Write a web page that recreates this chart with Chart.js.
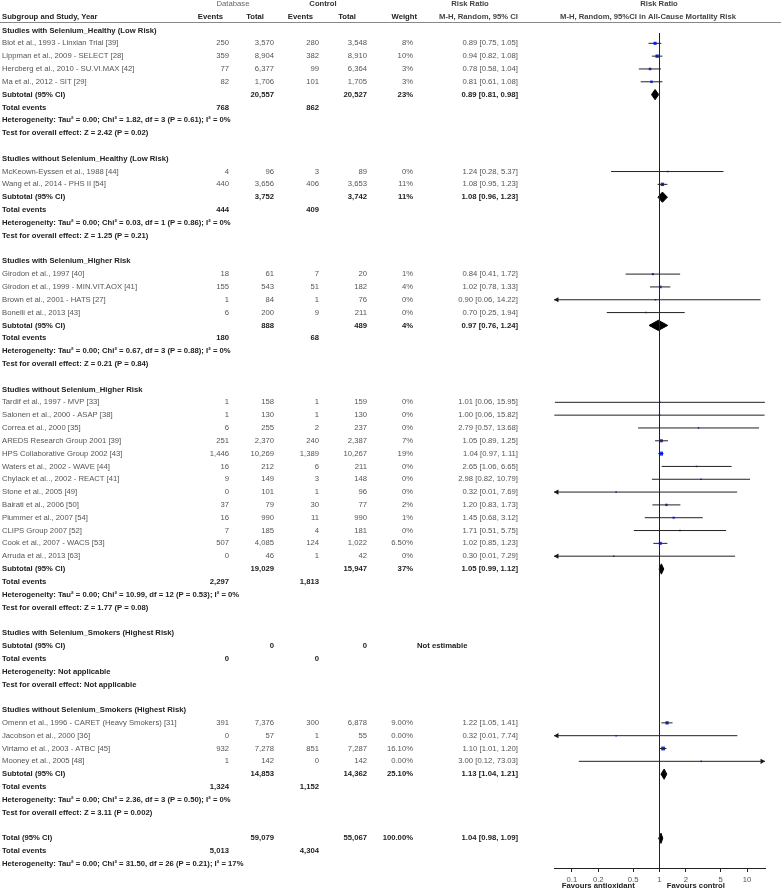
<!DOCTYPE html>
<html>
<head>
<meta charset="utf-8">
<script src="https://cdn.jsdelivr.net/npm/chart.js@4.4.1/dist/chart.umd.min.js"></script>
<style>
html, body { margin: 0; padding: 0; background: #fff; }
canvas { display: block; }
</style>
</head>
<body>
<canvas id="forest" width="781" height="891"></canvas>
<script>
// subgroups
const groupNames = [
	'Studies with Selenium_Healthy (Low Risk)',
	'Studies without Selenium_Healthy (Low Risk)',
	'Studies with Selenium_Higher Risk',
	'Studies without Selenium_Higher Risk',
	'Studies with Selenium_Smokers (Highest Risk)',
	'Studies without Selenium_Smokers (Highest Risk)'
];

// one entry per study
const studyNames = [
	'Blot et al., 1993 - Linxian Trial [39]', 'Lippman et al., 2009 - SELECT [28]',
	'Hercberg et al., 2010 - SU.VI.MAX [42]', 'Ma et al., 2012 - SIT [29]',
	'McKeown-Eyssen et al., 1988 [44]', 'Wang et al., 2014 - PHS II [54]',
	'Girodon et al., 1997 [40]', 'Girodon et al., 1999 - MIN.VIT.AOX [41]',
	'Brown et al., 2001 - HATS [27]', 'Bonelli et al., 2013 [43]',
	'Tardif et al., 1997 - MVP [33]', 'Salonen et al., 2000 - ASAP [38]', 'Correa et al., 2000 [35]',
	'AREDS Research Group 2001 [39]', 'HPS Collaborative Group 2002 [43]', 'Waters et al., 2002 - WAVE [44]',
	'Chylack et al.., 2002 - REACT [41]', 'Stone et al., 2005 [49]', 'Bairati et al., 2006 [50]',
	'Plummer et al., 2007 [54]', 'CLIPS Group 2007 [52]', 'Cook et al., 2007 - WACS [53]', 'Arruda et al., 2013 [63]',
	'Omenn et al., 1996 - CARET (Heavy Smokers) [31]', 'Jacobson et al., 2000 [36]',
	'Virtamo et al., 2003 - ATBC [45]', 'Mooney et al., 2005 [48]'
];
const studyGroup = [0,0,0,0, 1,1, 2,2,2,2, 3,3,3,3,3,3,3,3,3,3,3,3,3, 5,5,5,5];
const dbEvents  = [250, 359, 77, 82, 4, 440, 18, 155, 1, 6, 1, 1, 6, 251, 1446, 16, 9, 0, 37, 16, 7, 507, 0, 391, 0, 932, 1];
const dbTotal   = [3570, 8904, 6377, 1706, 96, 3656, 61, 543, 84, 200, 158, 130, 255, 2370, 10269, 212, 149, 101, 79, 990, 185, 4085, 46, 7376, 57, 7278, 142];
const ctlEvents = [280, 382, 99, 101, 3, 406, 7, 51, 1, 9, 1, 1, 2, 240, 1389, 6, 3, 1, 30, 11, 4, 124, 1, 300, 1, 851, 0];
const ctlTotal  = [3548, 8910, 6364, 1705, 89, 3653, 20, 182, 76, 211, 159, 130, 237, 2387, 10267, 211, 148, 96, 77, 990, 181, 1022, 42, 6878, 55, 7287, 142];
const weights   = ['8%', '10%', '3%', '3%', '0%', '11%', '1%', '4%', '0%', '0%', '0%', '0%', '0%', '7%', '19%', '0%', '0%', '0%', '2%', '1%', '0%', '6.50%', '0%', '9.00%', '0.00%', '16.10%', '0.00%'];
const rr = [0.89, 0.94, 0.78, 0.81, 1.24, 1.08, 0.84, 1.02, 0.90, 0.70, 1.01, 1.00, 2.79, 1.05, 1.04, 2.65, 2.98, 0.32, 1.20, 1.45, 1.71, 1.02, 0.30, 1.22, 0.32, 1.10, 3.00];
const lo = [0.75, 0.82, 0.58, 0.61, 0.28, 0.95, 0.41, 0.78, 0.057, 0.25, 0.064, 0.063, 0.57, 0.89, 0.97, 1.06, 0.82, 0.01, 0.83, 0.68, 0.51, 0.85, 0.01, 1.05, 0.01, 1.01, 0.12];
const hi = [1.05, 1.08, 1.04, 1.08, 5.37, 1.23, 1.72, 1.33, 14.22, 1.94, 15.95, 15.82, 13.68, 1.25, 1.11, 6.65, 10.79, 7.69, 1.73, 3.12, 5.75, 1.23, 7.29, 1.41, 7.74, 1.20, 73.03];

// one entry per subgroup
const subDbEvents  = [768, 444, 180, 2297, 0, 1324];
const subCtlEvents = [862, 409, 68, 1813, 0, 1152];
const subDbTotal   = [20557, 3752, 888, 19029, 0, 14853];
const subCtlTotal  = [20527, 3742, 489, 15947, 0, 14362];
const subWeight    = ['23%', '11%', '4%', '37%', '', '25.10%'];
const subRR = [0.89, 1.08, 0.97, 1.05, null, 1.13];
const subLo = [0.81, 0.96, 0.76, 0.99, null, 1.04];
const subHi = [0.98, 1.23, 1.24, 1.12, null, 1.21];
const hetText = [
	'Heterogeneity: Tau² = 0.00; Chi² = 1.82, df = 3 (P = 0.61); I² = 0%',
	'Heterogeneity: Tau² = 0.00; Chi² = 0.03, df = 1 (P = 0.86); I² = 0%',
	'Heterogeneity: Tau² = 0.00; Chi² = 0.67, df = 3 (P = 0.88); I² = 0%',
	'Heterogeneity: Tau² = 0.00; Chi² = 10.99, df = 12 (P = 0.53); I² = 0%',
	'Heterogeneity: Not applicable',
	'Heterogeneity: Tau² = 0.00; Chi² = 2.36, df = 3 (P = 0.50); I² = 0%'
];
const testText = [
	'Test for overall effect: Z = 2.42 (P = 0.02)',
	'Test for overall effect: Z = 1.25 (P = 0.21)',
	'Test for overall effect: Z = 0.21 (P = 0.84)',
	'Test for overall effect: Z = 1.77 (P = 0.08)',
	'Test for overall effect: Not applicable',
	'Test for overall effect: Z = 3.11 (P = 0.002)'
];

// overall
const totalCounts = [59079, 55067];
const totalEvents = [5013, 4304];
const totalWeight = '100.00%';
const totalCI = [1.04, 0.98, 1.09];
const totalHet = 'Heterogeneity: Tau² = 0.00; Chi² = 31.50, df = 26 (P = 0.21); I² = 17%';

const xTicks = [0.1, 0.2, 0.5, 1, 2, 5, 10];
const xMin = 0.0625, xMax = 16;
const yMin = 0.195, yMax = 65.32;

// lay the rows out
let rows = [], studyRow = [], subRow = [], r = 0;
groupNames.forEach((g, gi) => {
	rows.push({ type: 'group', r: r++, g: gi });
	studyNames.forEach((n, i) => {
		if (studyGroup[i] === gi) { studyRow[i] = r; rows.push({ type: 'study', r: r++, i: i }); }
	});
	subRow[gi] = r;
	rows.push({ type: 'sub', r: r++, g: gi });
	rows.push({ type: 'events', r: r++, g: gi });
	rows.push({ type: 'het', r: r++, g: gi });
	rows.push({ type: 'test', r: r++, g: gi });
	r++;
});
const totalRow = r;

// marks
let ciData = [], squareData = [], squareSize = [], arrowData = [], arrowRot = [];
studyNames.forEach((n, i) => {
	let y = studyRow[i];
	ciData.push({ x: lo[i], y: y }, { x: hi[i], y: y }, { x: null, y: null });
	squareData.push({ x: rr[i], y: y });
	squareSize.push(1.1 + Math.sqrt(parseFloat(weights[i])) * 0.4);
	if (lo[i] < xMin) { arrowData.push({ x: xMin * 1.08, y: y }); arrowRot.push(-90); }
	if (hi[i] > xMax) { arrowData.push({ x: xMax / 1.08, y: y }); arrowRot.push(90); }
});

let diamondData = [];
const addDiamond = (c, l, h, y) => {
	diamondData.push({ x: l, y: y }, { x: c, y: y - 0.4 }, { x: h, y: y }, { x: c, y: y + 0.4 }, { x: l, y: y }, { x: null, y: null });
};
subRR.forEach((v, gi) => { if (v !== null) addDiamond(v, subLo[gi], subHi[gi], subRow[gi]); });
addDiamond(totalCI[0], totalCI[1], totalCI[2], totalRow);

const fmt = n => n.toLocaleString('en-US');
const ciText = (c, l, h) => c.toFixed(2) + ' [' + l.toFixed(2) + ', ' + h.toFixed(2) + ']';

const tablePlugin = {
	id: 'table',
	afterDraw(chart) {
		const ctx = chart.ctx, ys = chart.scales.y, xs = chart.scales.x;
		const txt = (s, x, y, align, bold, color) => {
			ctx.font = (bold ? 'bold ' : '') + '7.7px "Liberation Sans", Arial, sans-serif';
			ctx.fillStyle = color || (bold ? '#222' : '#555');
			ctx.textAlign = align;
			ctx.textBaseline = 'middle';
			ctx.fillText(s, x, y);
		};
		ctx.save();

		// header
		let h1 = ys.getPixelForValue(-2.04), h2 = ys.getPixelForValue(-1.08);
		txt('Database', 233, h1, 'center', false, '#666');
		txt('Control', 323, h1, 'center', true, '#333');
		txt('Risk Ratio', 470, h1, 'center', true, '#444');
		txt('Risk Ratio', 659, h1, 'center', true, '#444');
		txt('Subgroup and Study, Year', 2, h2, 'left', true);
		txt('Events', 223, h2, 'right', true);
		txt('Total', 264, h2, 'right', true);
		txt('Events', 313, h2, 'right', true);
		txt('Total', 356, h2, 'right', true);
		txt('Weight', 417, h2, 'right', true);
		txt('M-H, Random, 95% CI', 518, h2, 'right', true, '#444');
		txt('M-H, Random, 95%CI in All-Cause Mortality Risk', 648, h2, 'center', true, '#444');
		let hl = Math.round(ys.getPixelForValue(-0.64)) + 0.5;
		ctx.strokeStyle = '#888';
		ctx.lineWidth = 1;
		ctx.beginPath();
		ctx.moveTo(0, hl);
		ctx.lineTo(781, hl);
		ctx.stroke();

		for (const row of rows) {
			let y = ys.getPixelForValue(row.r), g = row.g;
			if (row.type === 'group') {
				txt(groupNames[g], 2, y, 'left', true);
			} else if (row.type === 'study') {
				let i = row.i;
				txt(studyNames[i], 2, y, 'left');
				txt(fmt(dbEvents[i]), 229, y, 'right');
				txt(fmt(dbTotal[i]), 274, y, 'right');
				txt(fmt(ctlEvents[i]), 319, y, 'right');
				txt(fmt(ctlTotal[i]), 367, y, 'right');
				txt(weights[i], 413, y, 'right');
				txt(ciText(rr[i], lo[i], hi[i]), 518, y, 'right');
			} else if (row.type === 'sub') {
				txt('Subtotal (95% CI)', 2, y, 'left', true);
				txt(fmt(subDbTotal[g]), 274, y, 'right', true);
				txt(fmt(subCtlTotal[g]), 367, y, 'right', true);
				txt(subWeight[g], 413, y, 'right', true);
				if (subRR[g] === null) txt('Not estimable', 417, y, 'left', true);
				else txt(ciText(subRR[g], subLo[g], subHi[g]), 518, y, 'right', true);
			} else if (row.type === 'events') {
				txt('Total events', 2, y, 'left', true);
				txt(fmt(subDbEvents[g]), 229, y, 'right', true);
				txt(fmt(subCtlEvents[g]), 319, y, 'right', true);
			} else if (row.type === 'het') {
				txt(hetText[g], 2, y, 'left', true);
			} else if (row.type === 'test') {
				txt(testText[g], 2, y, 'left', true);
			}
		}

		// overall rows
		let t0 = ys.getPixelForValue(totalRow), t1 = ys.getPixelForValue(totalRow + 1), t2 = ys.getPixelForValue(totalRow + 2);
		txt('Total (95% CI)', 2, t0, 'left', true);
		txt(fmt(totalCounts[0]), 274, t0, 'right', true);
		txt(fmt(totalCounts[1]), 367, t0, 'right', true);
		txt(totalWeight, 413, t0, 'right', true);
		txt(ciText(totalCI[0], totalCI[1], totalCI[2]), 518, t0, 'right', true);
		txt('Total events', 2, t1, 'left', true);
		txt(fmt(totalEvents[0]), 229, t1, 'right', true);
		txt(fmt(totalEvents[1]), 319, t1, 'right', true);
		txt(totalHet, 2, t2, 'left', true);

		// under the axis
		let fy = chart.chartArea.bottom + 18;
		txt('Favours antioxidant', xs.getPixelForValue(0.2), fy, 'center', true);
		txt('Favours control', xs.getPixelForValue(2.6), fy, 'center', true);
		ctx.restore();
	}
};

document.addEventListener('DOMContentLoaded', () => {
	let ctx = document.querySelector('#forest');
	new Chart(ctx, {
		type: 'line',
		data: {
			datasets: [
				{ // line of no effect
					data: [{ x: 1, y: yMin }, { x: 1, y: yMax }],
					borderColor: '#222', borderWidth: 1, pointRadius: 0, fill: false
				},
				{ // confidence intervals
					data: ciData,
					borderColor: '#222', borderWidth: 1, pointRadius: 0, spanGaps: false, fill: false
				},
				{ // study estimates
					data: squareData,
					showLine: false, pointStyle: 'rect', pointRadius: squareSize,
					backgroundColor: '#1a2cff', borderColor: '#1a2cff', borderWidth: 0
				},
				{ // clipped intervals
					data: arrowData,
					showLine: false, pointStyle: 'triangle', pointRadius: 3, rotation: arrowRot,
					backgroundColor: '#111', borderColor: '#111', borderWidth: 0, clip: false
				},
				{ // pooled estimates
					data: diamondData,
					borderColor: '#000', backgroundColor: '#000', borderWidth: 1, pointRadius: 0,
					spanGaps: false, fill: 'shape'
				}
			]
		},
		options: {
			responsive: false,
			animation: false,
			devicePixelRatio: 1,
			events: [],
			layout: { padding: { top: 33, left: 554, right: 16, bottom: 0 } },
			elements: { line: { tension: 0 } },
			plugins: { legend: { display: false }, tooltip: { enabled: false } },
			scales: {
				x: {
					type: 'logarithmic', min: xMin, max: xMax, position: 'bottom',
					afterBuildTicks: s => { s.ticks = xTicks.map(v => ({ value: v })); },
					afterFit: s => { s.height = 23; },
					ticks: {
						callback: v => String(v), autoSkip: false, maxRotation: 0, padding: 3,
						color: '#555', font: { family: '"Liberation Sans", Arial, sans-serif', size: 7.7 }
					},
					grid: { drawOnChartArea: false, tickLength: 4, color: '#222' },
					border: { color: '#222' }
				},
				y: { type: 'linear', display: false, reverse: true, min: yMin, max: yMax }
			}
		},
		plugins: [tablePlugin]
	});
});
</script>
</body>
</html>
